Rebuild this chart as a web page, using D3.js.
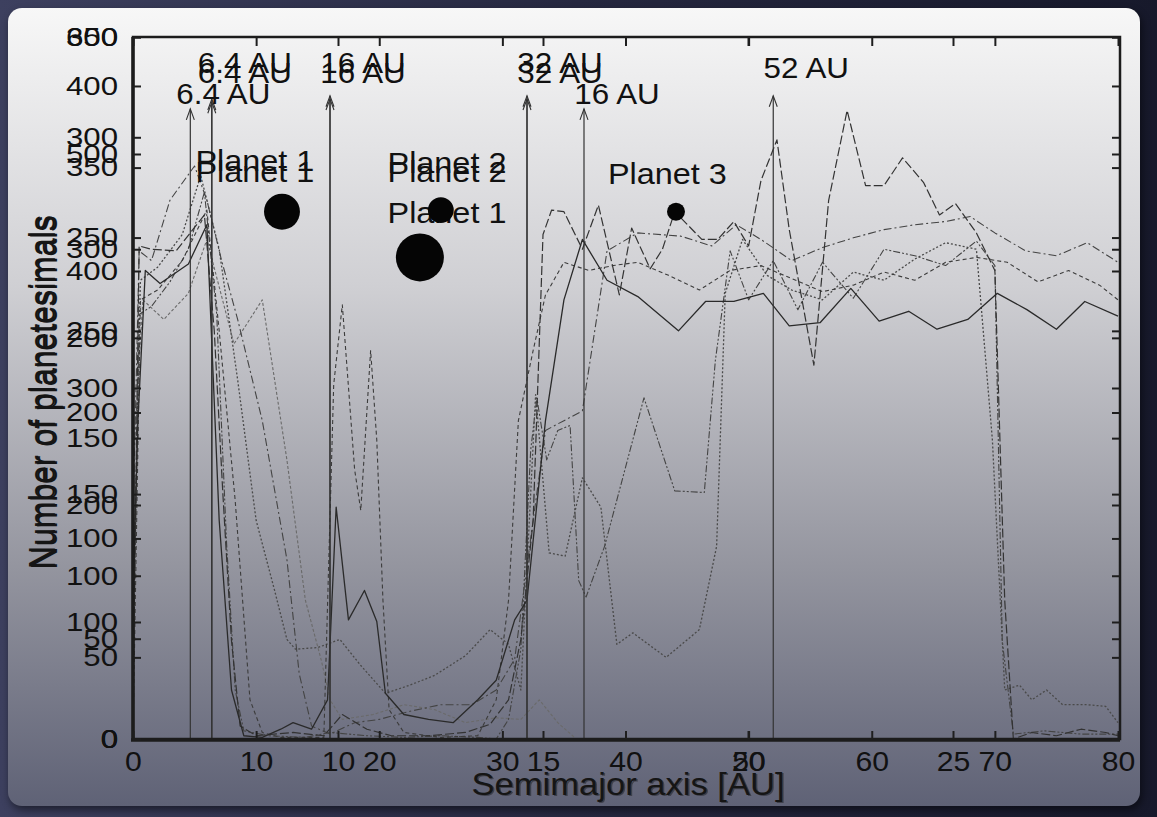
<!DOCTYPE html>
<html>
<head>
<meta charset="utf-8">
<script src="https://cdn.jsdelivr.net/npm/d3@7"></script>
<style>
  html, body { margin: 0; padding: 0; background: #1d1f33; }
  svg { display: block; }
</style>
</head>
<body>
<svg id="chart" width="1157" height="817"></svg>
<script>
// ---- data (x in AU, y in number of planetesimals) ----
const xTicksA = [0, 10, 20, 30, 40, 50, 60, 70, 80]
const xTicksB = [10, 15, 20, 25]
const yTicks1 = [0, 50, 100, 150, 200, 250, 300, 350, 400]
const yTicks2 = [0, 100, 200, 300, 400, 500, 600]
const yTicks3 = [0, 50, 100, 150, 200, 250, 300, 350]

const seriesSolid = [[0,85],[0.4,195],[1,287],[2.2,279],[4.5,291],[6,315],[7,134],[8,30],[9,2],[10.5,1],[12,6],[13,10],[14.5,6],[15.8,24],[16.5,142],[17.5,73],[18.8,91],[19.8,72],[20.5,28],[22,15],[24,12],[26,10],[28,24],[29.5,36],[31,73],[32,85],[33.5,195],[35,269],[36.5,306],[38.5,281],[41,271],[44.3,250],[46.5,268],[48.8,268],[51.2,273],[53.3,253],[55.8,255],[58.3,276],[60.6,256],[63,262],[65.3,251],[67.8,257],[70.2,273],[72.6,263],[75,251],[77.3,268],[80,259]]
const seriesLongDash = [[0,24],[0.5,302],[1.5,300],[3.5,299],[5.8,321],[6.6,250],[7.3,150],[8,60],[8.7,8],[10,2],[13,4],[15.5,2],[17,15],[19,6],[21,2],[24,2],[27,4],[29,9],[30.5,24],[31.5,61],[32.5,134],[33.3,309],[34,324],[35,323],[36.5,300],[37.8,327],[39.5,272],[40.5,313],[42,288],[43,300],[44,323],[46.2,306],[47.5,306],[48.8,317],[50,302],[51,342],[52.3,367],[53.3,312],[55.3,229],[56.5,330],[58,385],[59.5,339],[61,339],[62.5,356],[64.2,341],[65.5,321],[66.8,328],[68.5,310],[70,287],[70.8,85],[71.5,0],[73,4],[75,2],[77,6],[79,4],[80,2]]
const seriesDashDot = [[0,134],[0.5,299],[1.5,293],[3,330],[5,351],[6,330],[7.2,293],[8.5,257],[10.5,195],[12.5,110],[13.5,40],[14.5,8],[16,3],[18,10],[20,12],[22.5,17],[25,21],[27.5,21],[29.5,30],[31,49],[32.5,134],[33.5,189],[35,195],[36.5,201],[38.5,299],[41,310],[44.5,308],[47,302],[49,315],[51,306],[53.5,293],[56,301],[58.5,307],[61,312],[63.5,315],[66,317],[68,320],[70,310],[72.5,299],[75,296],[77.5,304],[80,292]]
const seriesDash = [[0,0],[0.6,269],[2,275],[4,293],[6,324],[7,250],[8.3,146],[9.5,24],[10.5,4],[12,1],[15.5,1],[16.3,217],[17,266],[18,165],[18.5,140],[19.3,238],[19.8,183],[20.3,85],[20.8,18],[22,4],[25,1],[28,2],[29.5,24],[30.5,85],[31.3,195],[32.5,238],[33.5,272],[35,292],[37,287],[39,290],[41,292],[43.5,284],[46,275],[48.5,287],[51,290],[53.5,282],[56,274],[58.5,278],[61,286],[63.5,281],[66,292],[68.5,295],[71,292],[73.5,280],[76,287],[78.5,278],[80,269]]
const seriesDotted = [[0,73],[0.6,281],[2,289],[4,309],[5.5,345],[7,300],[8.5,220],[10,134],[11.5,91],[12.5,61],[13.2,55],[15,56],[16.8,61],[18.5,45],[20.5,28],[22.5,33],[24.5,39],[27,51],[29,67],[30.5,58],[31.5,30],[32.7,211],[33.8,114],[35.1,112],[36.5,160],[38,142],[39.3,58],[40.6,65],[43.3,50],[46,67],[47.4,118],[48.1,273],[49.5,306],[51.5,284],[53.5,275],[56,269],[58.5,286],[61,281],[63.5,294],[66,304],[68.5,300],[69.8,183],[70.8,30],[72,33],[73,24],[74.2,30],[75.5,21],[77.5,21],[79,20],[80,10]]
const seriesDashDotDot = [[0,30],[0.5,260],[1.5,265],[3,280],[4.5,300],[5.8,335],[6.8,260],[7.6,120],[8.3,30],[9,5],[11,2],[14,1],[16,4],[19,2],[22,1],[25,2],[28,1],[29.5,0],[30.5,12],[31.5,55],[32.3,177],[32.8,209],[33.6,171],[34.5,189],[35.5,192],[36.2,97],[36.8,87],[38.3,118],[41.5,209],[44,152],[46.4,151],[47.3,232],[48.5,299],[50,269],[52,293],[54,263],[56,292],[58.5,270],[61,300],[63.5,296],[66,290],[68.5,305],[70,290],[70.6,60],[71.5,3],[74,5],[77,3],[80,3]]
const seriesLight = [[0,165],[0.8,269],[2.5,257],[4.5,273],[6,306],[8.2,242],[10.5,269],[12.5,171],[14,85],[15.3,48],[16,24],[17,12],[19.5,15],[22,21],[24.5,18],[27,10],[29.5,13],[31.5,12],[33,24],[34.5,10],[36,0]]

// planets: position (AU, count) and relative mass
const planetAU = [12.1, 23.3, 25.0, 44.1]
const planetCount = [323, 295, 324, 323]
const planetMass = [0.56, 1.0, 0.29, 0.14]
const planetLabels = ['Planet 1', 'Planet 1', 'Planet 2', 'Planet 2', 'Planet 1', 'Planet 3']
const planetLabelAU = [9.9, 9.9, 25.5, 25.5, 25.5, 43.4]
const planetLabelCount = [348, 341, 347, 341, 316, 340]

// arrows: which x-axis, AU, tip count, label and label count
const arrowAxis = ['A', 'A', 'A', 'A', 'A', 'A', 'A', 'C', 'B']
const arrowAU = [6.4, 6.4, 16, 16, 32, 32, 52, 6.4, 16]
const arrowTip = [392, 390, 394, 392, 394, 392, 394, 386, 386]
const arrowText = ['6.4 AU', '6.4 AU', '16 AU', '16 AU', '32 AU', '32 AU', '52 AU', '6.4 AU', '16 AU']
const arrowTextCount = [408, 402, 408, 402, 408, 402, 405, 389, 389]

// ---- setup ----
const FONT = '"Liberation Sans", Arial, Helvetica, sans-serif'
const svg = d3.select('#chart')
const defs = svg.append('defs')

const pageGrad = defs.append('linearGradient').attr('id', 'page')
pageGrad.append('stop').attr('offset', 0).attr('stop-color', '#3d405f')
pageGrad.append('stop').attr('offset', 0.5).attr('stop-color', '#262840')
pageGrad.append('stop').attr('offset', 1).attr('stop-color', '#17192b')

const slideGrad = defs.append('linearGradient').attr('id', 'slide')
  .attr('x1', 0).attr('x2', 0).attr('y1', 0).attr('y2', 1)
slideGrad.append('stop').attr('offset', 0).attr('stop-color', '#f7f7f7')
slideGrad.append('stop').attr('offset', 0.35).attr('stop-color', '#cfcfd3')
slideGrad.append('stop').attr('offset', 0.7).attr('stop-color', '#94959f')
slideGrad.append('stop').attr('offset', 1).attr('stop-color', '#5f6276')

defs.append('filter').attr('id', 'shadow')
  .attr('x', -0.05).attr('y', -0.05).attr('width', 1.1).attr('height', 1.1)
  .append('feGaussianBlur').attr('stdDeviation', 4)

svg.append('rect').attr('width', 1157).attr('height', 817).attr('fill', 'url(#page)')
svg.append('rect').attr('x', 10).attr('y', 12).attr('width', 1132).attr('height', 798)
  .attr('rx', 14).attr('fill', '#000').attr('opacity', 0.5).attr('filter', 'url(#shadow)')
svg.append('rect').attr('x', 8).attr('y', 8).attr('width', 1132).attr('height', 798)
  .attr('rx', 14).attr('fill', 'url(#slide)')

const xA = d3.scaleLinear().domain([0, 80]).range([133, 1118])
const xB = d3.scaleLinear().domain([10, 25]).range([338, 953])
const xC = d3.scaleLinear().domain([0, 110]).range([133, 1118])
const y1 = d3.scaleLinear().domain([0, 430]).range([739, 37])
const y2 = d3.scaleLinear().domain([0, 600]).range([739, 37])
const y3 = d3.scaleLinear().domain([0, 350]).range([739, 37])
const xScales = {A: xA, B: xB, C: xC}
const rScale = d3.scaleSqrt().domain([0, 1]).range([0, 24])

const styleAxis = (g, fs, sx) => {
  g.select('.domain').remove()
  g.attr('font-family', FONT).attr('font-size', fs)
  g.selectAll('line').attr('stroke', '#1e1e1e').attr('stroke-width', 2)
  g.selectAll('text').attr('fill', '#111').attr('transform', `scale(${sx},1)`)
}

// ---- series ----
const line = d3.line().x((d) => xA(d[0])).y((d) => y1(d[1]))
const series = [
  {data: seriesLight, stroke: '#6a6a6a', dash: '3,2', w: 1.1},
  {data: seriesDashDotDot, stroke: '#444', dash: '7,2,2,2,2,2', w: 1.1},
  {data: seriesDotted, stroke: '#4a4a4a', dash: '2,2', w: 1.3},
  {data: seriesDash, stroke: '#3c3c3c', dash: '4,3', w: 1.1},
  {data: seriesDashDot, stroke: '#444', dash: '8,3,2,3', w: 1.1},
  {data: seriesLongDash, stroke: '#333', dash: '9,3', w: 1.2},
  {data: seriesSolid, stroke: '#2a2a2a', dash: null, w: 1.3}
]
svg.append('g').selectAll('path')
  .data(series)
  .enter()
  .append('path')
  .attr('d', (d) => line(d.data))
  .attr('fill', 'none')
  .attr('stroke', (d) => d.stroke)
  .attr('stroke-width', (d) => d.w)
  .attr('stroke-dasharray', (d) => d.dash)
  .attr('stroke-linejoin', 'round')

// ---- arrows ----
const arrows = arrowAU.map((au, i) => ({
  x: xScales[arrowAxis[i]](au), tip: y1(arrowTip[i]), text: arrowText[i], ty: y1(arrowTextCount[i])
}))
const ag = svg.append('g')
ag.selectAll('line.stem').data(arrows).enter().append('line')
  .attr('x1', (d) => d.x).attr('x2', (d) => d.x)
  .attr('y1', 739).attr('y2', (d) => d.tip)
  .attr('stroke', '#333').attr('stroke-width', 1.2)
ag.selectAll('path.head').data(arrows).enter().append('path')
  .attr('d', (d) => `M${d.x - 4},${d.tip + 11}L${d.x},${d.tip}L${d.x + 4},${d.tip + 11}`)
  .attr('fill', 'none').attr('stroke', '#333').attr('stroke-width', 1.1)
ag.selectAll('text').data(arrows).enter().append('text')
  .attr('transform', (d) => `translate(${d.x + 33},${d.ty}) scale(1.08,1)`)
  .attr('text-anchor', 'middle')
  .attr('font-family', FONT).attr('font-size', 29).attr('fill', '#111')
  .text((d) => d.text)

// ---- planets ----
const pg = svg.append('g')
pg.selectAll('text').data(planetLabels).enter().append('text')
  .attr('transform', (d, i) => `translate(${xA(planetLabelAU[i])},${y1(planetLabelCount[i])}) scale(1.08,1)`)
  .attr('text-anchor', 'middle')
  .attr('font-family', FONT).attr('font-size', 30).attr('fill', '#111')
  .text((d) => d)
pg.selectAll('circle').data(planetAU).enter().append('circle')
  .attr('cx', (d) => xA(d))
  .attr('cy', (d, i) => y1(planetCount[i]))
  .attr('r', (d, i) => rScale(planetMass[i]))
  .attr('fill', '#050505')

// ---- frame ----
svg.append('rect').attr('x', 133).attr('y', 37).attr('width', 987).attr('height', 702)
  .attr('fill', 'none').attr('stroke', '#1c1c1c').attr('stroke-width', 2.5)
svg.append('line').attr('x1', 133).attr('x2', 133).attr('y1', 37).attr('y2', 741)
  .attr('stroke', '#1c1c1c').attr('stroke-width', 3.5)
svg.append('line').attr('x1', 131).attr('x2', 1120).attr('y1', 740).attr('y2', 740)
  .attr('stroke', '#1c1c1c').attr('stroke-width', 3.5)

// ---- axes ----
const fmt = d3.format('d')
svg.append('g').attr('transform', 'translate(0,739)')
  .call(d3.axisBottom(xA).tickValues(xTicksA).tickSize(-8).tickPadding(13).tickFormat(fmt))
  .call((g) => styleAxis(g, 27, 1.12))
svg.append('g').attr('transform', 'translate(0,739)')
  .call(d3.axisBottom(xB).tickValues(xTicksB).tickSize(-8).tickPadding(13).tickFormat(fmt))
  .call((g) => styleAxis(g, 27, 1.12))
svg.append('g').attr('transform', 'translate(0,37)')
  .call(d3.axisTop(xA).tickValues(xTicksA).tickSize(-9).tickFormat(''))
  .call((g) => styleAxis(g, 27, 1))
svg.append('g').attr('transform', 'translate(0,37)')
  .call(d3.axisTop(xB).tickValues(xTicksB).tickSize(-9).tickFormat(''))
  .call((g) => styleAxis(g, 27, 1))

const yAxes = [[y1, yTicks1], [y2, yTicks2], [y3, yTicks3]]
yAxes.forEach(([scale, ticks]) => {
  svg.append('g').attr('transform', 'translate(133,0)')
    .call(d3.axisLeft(scale).tickValues(ticks).tickSize(-8).tickPadding(12.5).tickFormat(fmt))
    .call((g) => styleAxis(g, 26, 1.2))
  svg.append('g').attr('transform', 'translate(1120,0)')
    .call(d3.axisRight(scale).tickValues(ticks).tickSize(-8).tickFormat(''))
    .call((g) => styleAxis(g, 26, 1))
})

// ---- titles (a faint second copy, as in the overlaid slides) ----
;[[1.5, 0.5, 0.45], [0, 0, 1]].forEach(([dx, dy, op]) => {
  svg.append('text')
    .attr('transform', `translate(${628 + dx},${795 + dy}) scale(1.08,1)`)
    .attr('text-anchor', 'middle')
    .attr('font-family', FONT).attr('font-size', 32).attr('fill', '#151515')
    .attr('opacity', op)
    .text('Semimajor axis [AU]')
  svg.append('text')
    .attr('transform', `translate(${55 + dx},${392 + dy}) scale(1.15,1) rotate(-90)`)
    .attr('text-anchor', 'middle')
    .attr('font-family', FONT).attr('font-size', 32).attr('fill', '#151515')
    .text('Number of planetesimals')
})
</script>
</body>
</html>
